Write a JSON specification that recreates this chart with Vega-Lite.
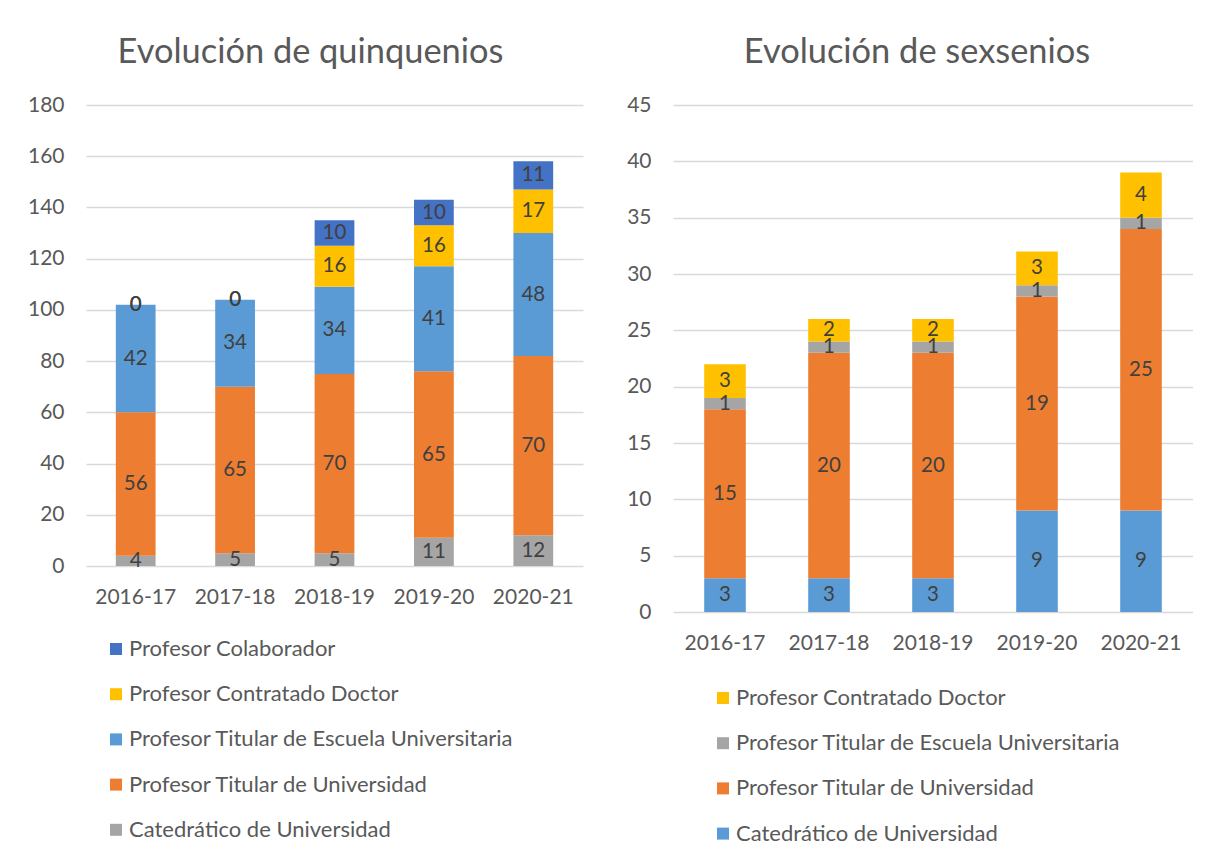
{
  "$schema": "https://vega.github.io/schema/vega-lite/v6.json",
  "background": "white",
  "padding": {"left": 27, "top": 34, "right": 0, "bottom": 0},
  "spacing": 43,
  "datasets": {
    "quinq": [
      {"curso": "2016-17", "categoria": "Catedrático de Universidad", "valor": 4},
      {"curso": "2016-17", "categoria": "Profesor Titular de Universidad", "valor": 56},
      {"curso": "2016-17", "categoria": "Profesor Titular de Escuela Universitaria", "valor": 42},
      {"curso": "2016-17", "categoria": "Profesor Contratado Doctor", "valor": 0},
      {"curso": "2016-17", "categoria": "Profesor Colaborador", "valor": 0},
      {"curso": "2017-18", "categoria": "Catedrático de Universidad", "valor": 5},
      {"curso": "2017-18", "categoria": "Profesor Titular de Universidad", "valor": 65},
      {"curso": "2017-18", "categoria": "Profesor Titular de Escuela Universitaria", "valor": 34},
      {"curso": "2017-18", "categoria": "Profesor Contratado Doctor", "valor": 0},
      {"curso": "2017-18", "categoria": "Profesor Colaborador", "valor": 0},
      {"curso": "2018-19", "categoria": "Catedrático de Universidad", "valor": 5},
      {"curso": "2018-19", "categoria": "Profesor Titular de Universidad", "valor": 70},
      {"curso": "2018-19", "categoria": "Profesor Titular de Escuela Universitaria", "valor": 34},
      {"curso": "2018-19", "categoria": "Profesor Contratado Doctor", "valor": 16},
      {"curso": "2018-19", "categoria": "Profesor Colaborador", "valor": 10},
      {"curso": "2019-20", "categoria": "Catedrático de Universidad", "valor": 11},
      {"curso": "2019-20", "categoria": "Profesor Titular de Universidad", "valor": 65},
      {"curso": "2019-20", "categoria": "Profesor Titular de Escuela Universitaria", "valor": 41},
      {"curso": "2019-20", "categoria": "Profesor Contratado Doctor", "valor": 16},
      {"curso": "2019-20", "categoria": "Profesor Colaborador", "valor": 10},
      {"curso": "2020-21", "categoria": "Catedrático de Universidad", "valor": 12},
      {"curso": "2020-21", "categoria": "Profesor Titular de Universidad", "valor": 70},
      {"curso": "2020-21", "categoria": "Profesor Titular de Escuela Universitaria", "valor": 48},
      {"curso": "2020-21", "categoria": "Profesor Contratado Doctor", "valor": 17},
      {"curso": "2020-21", "categoria": "Profesor Colaborador", "valor": 11}
    ],
    "sex": [
      {"curso": "2016-17", "categoria": "Catedrático de Universidad", "valor": 3},
      {"curso": "2016-17", "categoria": "Profesor Titular de Universidad", "valor": 15},
      {"curso": "2016-17", "categoria": "Profesor Titular de Escuela Universitaria", "valor": 1},
      {"curso": "2016-17", "categoria": "Profesor Contratado Doctor", "valor": 3},
      {"curso": "2017-18", "categoria": "Catedrático de Universidad", "valor": 3},
      {"curso": "2017-18", "categoria": "Profesor Titular de Universidad", "valor": 20},
      {"curso": "2017-18", "categoria": "Profesor Titular de Escuela Universitaria", "valor": 1},
      {"curso": "2017-18", "categoria": "Profesor Contratado Doctor", "valor": 2},
      {"curso": "2018-19", "categoria": "Catedrático de Universidad", "valor": 3},
      {"curso": "2018-19", "categoria": "Profesor Titular de Universidad", "valor": 20},
      {"curso": "2018-19", "categoria": "Profesor Titular de Escuela Universitaria", "valor": 1},
      {"curso": "2018-19", "categoria": "Profesor Contratado Doctor", "valor": 2},
      {"curso": "2019-20", "categoria": "Catedrático de Universidad", "valor": 9},
      {"curso": "2019-20", "categoria": "Profesor Titular de Universidad", "valor": 19},
      {"curso": "2019-20", "categoria": "Profesor Titular de Escuela Universitaria", "valor": 1},
      {"curso": "2019-20", "categoria": "Profesor Contratado Doctor", "valor": 3},
      {"curso": "2020-21", "categoria": "Catedrático de Universidad", "valor": 9},
      {"curso": "2020-21", "categoria": "Profesor Titular de Universidad", "valor": 25},
      {"curso": "2020-21", "categoria": "Profesor Titular de Escuela Universitaria", "valor": 1},
      {"curso": "2020-21", "categoria": "Profesor Contratado Doctor", "valor": 4}
    ]
  },
  "config": {
    "font": "Lato",
    "view": {"stroke": null},
    "axis": {
      "labelFont": "Lato",
      "labelColor": "#595959",
      "labelFontSize": 21,
      "ticks": false,
      "tickSize": 0,
      "domain": false,
      "gridColor": "#D9D9D9",
      "gridWidth": 1.5
    },
    "axisX": {"grid": false, "labelPadding": 20, "labelAngle": 0},
    "axisY": {"labelPadding": 22},
    "title": {"font": "Lato", "fontSize": 34.4, "fontWeight": "normal", "color": "#595959", "offset": 24},
    "legend": {
      "orient": "none",
      "title": null,
      "symbolType": "square",
      "symbolSize": 144,
      "symbolStrokeWidth": 0,
      "labelFont": "Lato",
      "labelFontSize": 22,
      "labelColor": "#595959",
      "rowPadding": 23.2,
      "labelOffset": 2,
      "padding": 0,
      "labelLimit": 600
    }
  },
  "resolve": {"scale": {"color": "independent", "x": "independent", "y": "independent"}},
  "hconcat": [
    {
      "title": {"text": "Evolución de quinquenios", "dx": -24},
      "width": 497,
      "height": 461,
      "data": {"name": "quinq"},
      "transform": [
        {"calculate": "indexof(['Catedrático de Universidad','Profesor Titular de Universidad','Profesor Titular de Escuela Universitaria','Profesor Contratado Doctor','Profesor Colaborador'], datum.categoria)", "as": "orden"},
        {"stack": "valor", "groupby": ["curso"], "sort": [{"field": "orden", "order": "ascending"}], "as": ["v0", "v1"]},
        {"calculate": "(datum.v0 + datum.v1) / 2", "as": "mid"}
      ],
      "encoding": {
        "x": {"field": "curso", "type": "nominal", "title": null, "scale": {"paddingInner": 0.6, "paddingOuter": 0.3}}
      },
      "layer": [
        {
          "mark": {"type": "bar"},
          "encoding": {
            "y": {"field": "v0", "type": "quantitative", "title": null, "scale": {"domain": [0, 180], "nice": false}, "axis": {"values": [0, 20, 40, 60, 80, 100, 120, 140, 160, 180]}},
            "y2": {"field": "v1"},
            "color": {
              "field": "categoria",
              "type": "nominal",
              "scale": {
                "domain": ["Profesor Colaborador", "Profesor Contratado Doctor", "Profesor Titular de Escuela Universitaria", "Profesor Titular de Universidad", "Catedrático de Universidad"],
                "range": ["#4472C4", "#FFC000", "#5B9BD5", "#ED7D31", "#A5A5A5"]
              },
              "legend": {"legendX": 19, "legendY": 533}
            }
          }
        },
        {
          "mark": {"type": "text", "color": "#404040", "fontSize": 20.5, "font": "Lato", "baseline": "middle"},
          "encoding": {
            "y": {"field": "mid", "type": "quantitative"},
            "text": {"field": "valor", "type": "quantitative"}
          }
        }
      ]
    },
    {
      "title": {"text": "Evolución de sexsenios", "dx": -16},
      "width": 520,
      "height": 507,
      "data": {"name": "sex"},
      "transform": [
        {"calculate": "indexof(['Catedrático de Universidad','Profesor Titular de Universidad','Profesor Titular de Escuela Universitaria','Profesor Contratado Doctor'], datum.categoria)", "as": "orden"},
        {"stack": "valor", "groupby": ["curso"], "sort": [{"field": "orden", "order": "ascending"}], "as": ["v0", "v1"]},
        {"calculate": "(datum.v0 + datum.v1) / 2", "as": "mid"}
      ],
      "encoding": {
        "x": {"field": "curso", "type": "nominal", "title": null, "scale": {"paddingInner": 0.6, "paddingOuter": 0.3}}
      },
      "layer": [
        {
          "mark": {"type": "bar"},
          "encoding": {
            "y": {"field": "v0", "type": "quantitative", "title": null, "scale": {"domain": [0, 45], "nice": false}, "axis": {"values": [0, 5, 10, 15, 20, 25, 30, 35, 40, 45]}},
            "y2": {"field": "v1"},
            "color": {
              "field": "categoria",
              "type": "nominal",
              "scale": {
                "domain": ["Profesor Contratado Doctor", "Profesor Titular de Escuela Universitaria", "Profesor Titular de Universidad", "Catedrático de Universidad"],
                "range": ["#FFC000", "#A5A5A5", "#ED7D31", "#5B9BD5"]
              },
              "legend": {"legendX": 39, "legendY": 582}
            }
          }
        },
        {
          "mark": {"type": "text", "color": "#404040", "fontSize": 20.5, "font": "Lato", "baseline": "middle"},
          "encoding": {
            "y": {"field": "mid", "type": "quantitative"},
            "text": {"field": "valor", "type": "quantitative"}
          }
        }
      ]
    }
  ]
}
